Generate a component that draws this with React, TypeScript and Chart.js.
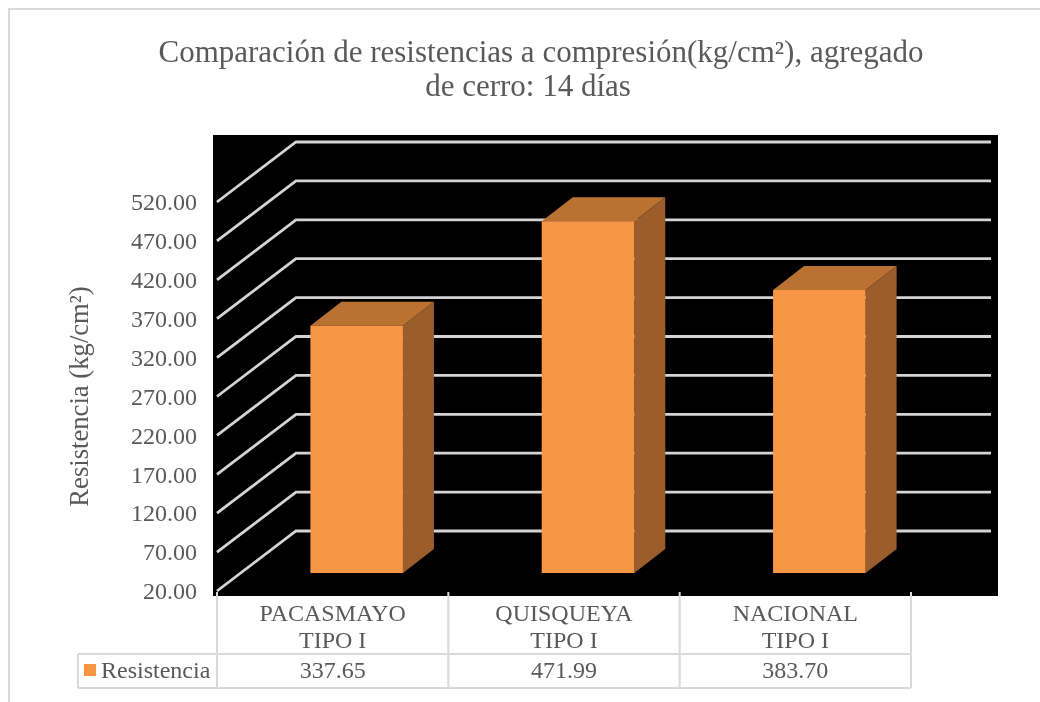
import React, { useEffect, useRef } from "react";
import { Chart, registerables } from "chart.js";

Chart.register(...registerables);

const titleLines = ["Comparación de resistencias a compresión(kg/cm²), agregado", "de cerro: 14 días"];
const yAxisTitle = "Resistencia (kg/cm²)";
const categories = [["PACASMAYO", "TIPO I"], ["QUISQUEYA", "TIPO I"], ["NACIONAL", "TIPO I"]];
const seriesName = "Resistencia";
const resistencia = [337.65, 471.99, 383.7];

const SERIF = '"Liberation Serif", "Times New Roman", serif';
const TEXT = "#595959";
const LINE = "#D9D9D9";
const FRONT = "#F99646";
const TOP = "#BA7233";
const SIDE = "#9A5D2B";

const WALL = { dx: 79, dy: -60 };
const BAR_SHIFT = { dx: 24, dy: -18 };
const BAR_DEPTH = { dx: 31, dy: -24 };

function poly(ctx: CanvasRenderingContext2D, pts: number[][], fill: string) {
  ctx.fillStyle = fill;
  ctx.beginPath();
  pts.forEach((p, i) => (i ? ctx.lineTo(p[0], p[1]) : ctx.moveTo(p[0], p[1])));
  ctx.closePath();
  ctx.fill();
}

const scene = {
  id: "scene",
  beforeDraw(chart: any) {
    const { ctx, chartArea: a, scales } = chart;
    ctx.save();
    // chart frame
    ctx.strokeStyle = LINE;
    ctx.lineWidth = 2;
    ctx.beginPath();
    ctx.moveTo(9, 702);
    ctx.lineTo(9, 9);
    ctx.lineTo(1040, 9);
    ctx.stroke();
    // plot backdrop
    ctx.fillStyle = "#000000";
    ctx.fillRect(a.left - 4, a.top + WALL.dy - 7, a.right - a.left + WALL.dx + 12, a.bottom - a.top - WALL.dy + 12);
    // title
    ctx.fillStyle = TEXT;
    ctx.font = `31px ${SERIF}`;
    ctx.textAlign = "center";
    ctx.textBaseline = "middle";
    ctx.fillText(titleLines[0], 541, 54);
    ctx.fillText(titleLines[1], 528, 88);
    // gridlines: side wall + back wall
    ctx.strokeStyle = "#D4D4D4";
    ctx.lineWidth = 2.8;
    ctx.lineJoin = "miter";
    scales.y.ticks.forEach((t: any) => {
      const y = scales.y.getPixelForValue(t.value);
      ctx.beginPath();
      ctx.moveTo(a.left, y);
      ctx.lineTo(a.left + WALL.dx, y + WALL.dy);
      ctx.lineTo(a.right + WALL.dx + 1, y + WALL.dy);
      ctx.stroke();
    });
    ctx.restore();
  },
  beforeDatasetsDraw(chart: any) {
    const { ctx } = chart;
    ctx.save();
    ctx.translate(BAR_SHIFT.dx, BAR_SHIFT.dy);
    chart.getDatasetMeta(0).data.forEach((bar: any) => {
      const l = bar.x - bar.width / 2;
      const r = bar.x + bar.width / 2;
      const t = bar.y;
      const b = bar.base;
      const { dx, dy } = BAR_DEPTH;
      poly(ctx, [[l, t], [r, t], [r + dx, t + dy], [l + dx, t + dy]], TOP);
      poly(ctx, [[r, t], [r + dx, t + dy], [r + dx, b + dy], [r, b]], SIDE);
    });
  },
  afterDatasetsDraw(chart: any) {
    chart.ctx.restore();
  },
  afterDraw(chart: any) {
    const { ctx, chartArea: a, scales } = chart;
    const x = scales.x;
    const colW = (a.right - a.left) / categories.length;
    const rowTop = 654;
    const rowBottom = 688;
    const legendLeft = 78;
    ctx.save();
    ctx.strokeStyle = LINE;
    ctx.lineWidth = 2;
    ctx.beginPath();
    for (let i = 0; i <= categories.length; i++) {
      const px = a.left + i * colW;
      ctx.moveTo(px, a.bottom + 1);
      ctx.lineTo(px, rowBottom);
    }
    ctx.moveTo(legendLeft, rowTop);
    ctx.lineTo(a.right, rowTop);
    ctx.moveTo(legendLeft, rowBottom);
    ctx.lineTo(a.right, rowBottom);
    ctx.moveTo(legendLeft, rowTop);
    ctx.lineTo(legendLeft, rowBottom);
    ctx.stroke();
    ctx.fillStyle = FRONT;
    ctx.fillRect(84, 664, 12, 12);
    ctx.fillStyle = TEXT;
    ctx.font = `24px ${SERIF}`;
    ctx.textBaseline = "middle";
    ctx.textAlign = "left";
    ctx.fillText(seriesName, 101, 672);
    ctx.textAlign = "center";
    resistencia.forEach((v, i) => ctx.fillText(v.toFixed(2), x.getPixelForTick(i), 672));
    ctx.restore();
  },
};

export default function App() {
  const ref = useRef<HTMLCanvasElement>(null);
  useEffect(() => {
    const chart = new Chart(ref.current!, {
      type: "bar",
      data: {
        labels: categories as any,
        datasets: [
          {
            label: seriesName,
            data: resistencia,
            base: 20,
            backgroundColor: FRONT,
            borderWidth: 0,
            barPercentage: 0.4,
            categoryPercentage: 1,
            clip: false as any,
          },
        ],
      },
      options: {
        responsive: false,
        animation: false,
        layout: { padding: { top: 202, right: 129, bottom: 0, left: 0 } },
        plugins: { legend: { display: false }, title: { display: false }, tooltip: { enabled: false } },
        scales: {
          x: {
            grid: { display: false },
            border: { display: false },
            afterFit: (s: any) => {
              s.height = 111;
            },
            ticks: {
              color: TEXT,
              font: { family: SERIF, size: 24, lineHeight: 1.12 },
              maxRotation: 0,
              minRotation: 0,
              autoSkip: false,
              padding: 2,
            },
          },
          y: {
            min: 20,
            max: 520,
            grid: { display: false, drawTicks: false },
            border: { display: false },
            afterFit: (s: any) => {
              s.width = 217;
            },
            title: {
              display: true,
              text: yAxisTitle,
              color: TEXT,
              font: { family: SERIF, size: 26.67 },
              padding: { top: 65, bottom: 0 },
            },
            ticks: {
              stepSize: 50,
              color: TEXT,
              font: { family: SERIF, size: 24 },
              padding: 20,
              labelOffset: 2,
              callback: (v: any) => Number(v).toFixed(2),
            },
          },
        },
      },
      plugins: [scene],
    });
    return () => chart.destroy();
  }, []);
  return (
    <div style={{ position: "fixed", inset: 0, background: "#fff", overflow: "hidden" }}>
      <canvas ref={ref} width={1040} height={702} style={{ display: "block" }} />
    </div>
  );
}
